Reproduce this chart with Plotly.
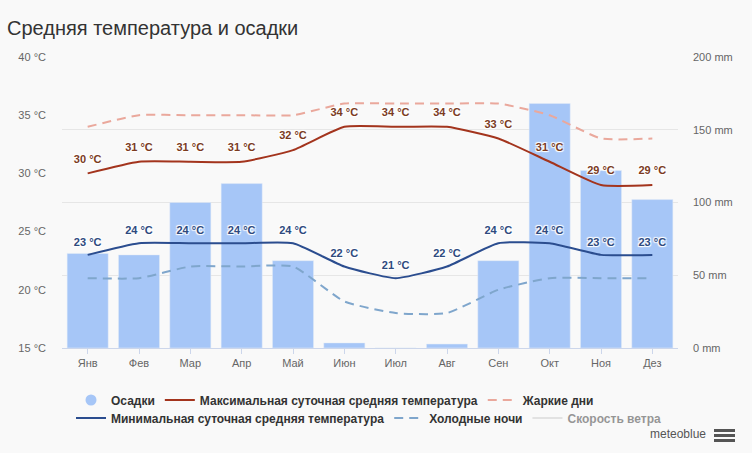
import plotly.graph_objects as go

# Средняя температура и осадки (по месяцам)
months = ['Янв', 'Фев', 'Мар', 'Апр', 'Май', 'Июн', 'Июл', 'Авг', 'Сен', 'Окт', 'Ноя', 'Дез']
precip = [65, 64, 100, 113, 60, 3.5, 0, 2.7, 60, 168, 122, 102]
t_max = [30, 31, 31, 31, 32, 34, 34, 34, 33, 31, 29, 29]
t_min = [23, 24, 24, 24, 24, 22, 21, 22, 24, 24, 23, 23]
hot_days = [34, 35, 35, 35, 35, 36, 36, 36, 36, 35, 33, 33]
cold_nights = [21, 21, 22, 22, 22, 19, 18, 18, 20, 21, 21, 21]

BG = '#f9f9f9'
FONT = 'Liberation Sans, Arial, sans-serif'
halo = '1px 1px 1px #fff, -1px -1px 1px #fff, 1px -1px 1px #fff, -1px 1px 1px #fff'

# пиксели -> координаты paper (область графика 62..678 x 57..348)
def px(x):
    return (x - 62) / 616.0

def py(y):
    return (348 - y) / 291.0

def lbl(vals):
    return ['%d °C' % v for v in vals]

fig = go.Figure()

# осадки - на оси y (мм, справа), рисуются первыми
fig.add_trace(go.Bar(
    x=months, y=precip, yaxis='y', marker_color='#a6c6f7',
    name='Осадки', showlegend=False, legendgroup='p', hoverinfo='y'))
fig.add_trace(go.Scatter(
    x=[None], y=[None], mode='markers', name='Осадки', legendgroup='p',
    marker=dict(symbol='circle', size=11, color='#a6c6f7'), legend='legend'))

fig.add_trace(go.Scatter(
    x=months, y=t_max, yaxis='y2', mode='lines+markers+text',
    name='Максимальная суточная средняя температура',
    line=dict(color='#a3341d', width=2, shape='spline', smoothing=0.5),
    marker=dict(size=11, color='rgba(0,0,0,0)'),
    text=lbl(t_max), textposition='top center',
    textfont=dict(color='#7b3b1f', size=11, weight='bold', shadow=halo),
    legend='legend'))
fig.add_trace(go.Scatter(
    x=months, y=hot_days, yaxis='y2', mode='lines', name='Жаркие дни',
    line=dict(color='#eaa89c', width=2, dash='9px,6px', shape='spline', smoothing=0.5),
    legend='legend'))

fig.add_trace(go.Scatter(
    x=months, y=t_min, yaxis='y2', mode='lines+markers+text',
    name='Минимальная суточная средняя температура',
    line=dict(color='#2b4d8f', width=2, shape='spline', smoothing=0.5),
    marker=dict(size=9, color='rgba(0,0,0,0)'),
    text=lbl(t_min), textposition='top center',
    textfont=dict(color='#2e4a7e', size=11, weight='bold', shadow=halo),
    legend='legend2'))
fig.add_trace(go.Scatter(
    x=months, y=cold_nights, yaxis='y2', mode='lines', name='Холодные ночи',
    line=dict(color='#7fa6cc', width=2, dash='9px,6px', shape='spline', smoothing=0.5),
    legend='legend2'))
fig.add_trace(go.Scatter(
    x=months, y=[None] * 12, yaxis='y2', mode='lines', name='Скорость ветра',
    line=dict(color='#cccccc', width=2), visible='legendonly', legend='legend2'))

axis_font = dict(family=FONT, size=11, color='#666666')
legend_font = dict(family=FONT, size=12, color='#333333', weight='bold')

fig.update_layout(
    width=752, height=453,
    margin=dict(l=62, r=74, t=57, b=105),
    paper_bgcolor=BG, plot_bgcolor=BG,
    font=dict(family=FONT),
    title=dict(text='Средняя температура и осадки', x=7 / 752, xanchor='left',
               y=1 - 28 / 453, yanchor='middle',
               font=dict(family=FONT, size=20, color='#333333')),
    bargap=0.2,
    xaxis=dict(range=[-0.5, 11.5], showgrid=False, showline=True, linecolor='#ccd6eb',
               ticks='outside', ticklen=5, tickcolor='#ccd6eb', tickfont=axis_font,
               fixedrange=True),
    yaxis=dict(range=[0, 200], dtick=50, side='right', ticksuffix=' mm',
               showgrid=True, gridcolor='#e6e6e6', zeroline=False,
               tickfont=axis_font, ticklabelstandoff=14, fixedrange=True),
    yaxis2=dict(range=[15, 40], dtick=5, side='left', overlaying='y', ticksuffix=' °C',
                showgrid=False, zeroline=False, tickfont=axis_font,
                ticklabelstandoff=15, fixedrange=True),
    legend=dict(orientation='h', x=px(71), y=py(400), xanchor='left', yanchor='middle',
                font=legend_font, bgcolor='rgba(0,0,0,0)', itemwidth=30),
    legend2=dict(orientation='h', x=px(71), y=py(418), xanchor='left', yanchor='middle',
                 font=legend_font, bgcolor='rgba(0,0,0,0)', itemwidth=30),
    annotations=[dict(text='meteoblue', xref='paper', yref='paper', x=px(708), y=py(434),
                      xanchor='right', yanchor='middle', showarrow=False,
                      font=dict(family=FONT, size=12, color='#555555'))],
)

# значок меню (три полоски)
for top in (429, 434, 439):
    fig.add_shape(type='rect', xref='paper', yref='paper',
                  x0=px(714), x1=px(735), y0=py(top + 3), y1=py(top),
                  fillcolor='#555555', line_width=0)

fig.write_html('out.html', config={'displayModeBar': False},
               post_script="document.body.style.margin='0';")
